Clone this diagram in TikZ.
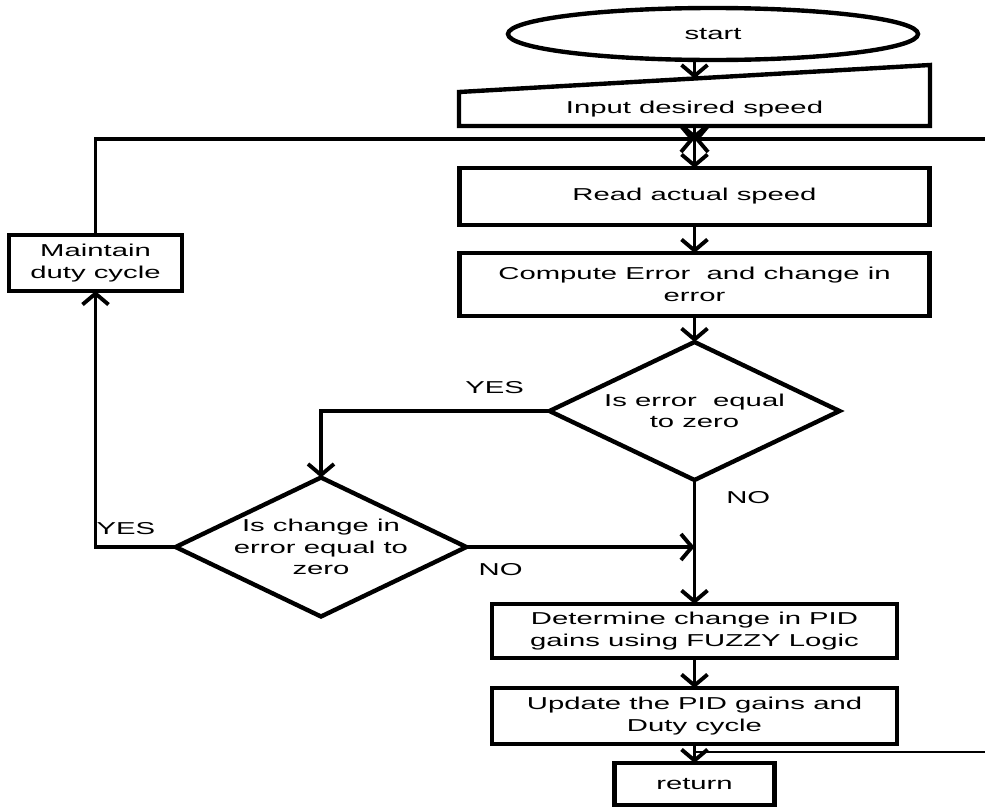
\documentclass[tikz,border=0pt]{standalone}
\usepackage{fontspec}
\newfontfamily\flowfont[FakeStretch=1.7]{Liberation Sans}
\usetikzlibrary{
  shapes.geometric,
  positioning,
  arrows.meta,
  calc
}
\tikzset{
  >={Straight Barb[length=0.22cm,width=0.52cm]},
  every node/.style={font=\flowfont\fontsize{9.8}{12.2}\selectfont, align=center},
  process/.style={draw, line width=2.5pt, inner sep=0pt, outer sep=0pt,
    minimum width=9.4cm, minimum height=1.14cm},
  decision/.style={diamond, draw, line width=2.5pt, inner sep=0pt, outer sep=0pt, aspect=2.1},
  flow/.style={line width=2.2pt},
  answer/.style={inner sep=1pt}
}

\begin{document}
\begin{tikzpicture}
    \useasboundingbox (0,0) rectangle (19.7,-16.16);
    \node[ellipse, draw, line width=2.5pt, inner sep=0pt, minimum width=8.2cm, minimum height=1.04cm] (start) at (14.26,-0.68) {start};
    \node[inner sep=0pt, outer sep=0pt, minimum width=9.42cm, minimum height=0.68cm] (input) at (13.89,-2.18) {Input desired speed};
    \coordinate (inTL) at (input.north west);
    \coordinate (inTR) at ($(input.north east)+(0,0.54)$);
    \coordinate (intop) at ($(inTL)!0.5!(inTR)$);
    \draw[line width=2.5pt] (input.south west) -- (input.south east) -- (inTR) -- (inTL) -- cycle;
    \coordinate[below=0.26cm of input] (jn);
    \node[process, below=0.84cm of input] (read) {Read actual speed};
    \node[process, minimum height=1.26cm, below=0.56cm of read] (comp) {Compute Error\ \ and change in\\error};
    \node[decision, minimum width=5.8cm, minimum height=2.76cm, below=0.52cm of comp] (iserr) {Is error\ \ equal\\to zero};
    \node[process, minimum width=8.1cm, minimum height=1.08cm, below=2.48cm of iserr] (fuzzy) {Determine change in PID\\gains using FUZZY Logic};
    \node[process, minimum width=8.1cm, minimum height=1.12cm, below=0.6cm of fuzzy] (update) {Update the PID gains and\\Duty cycle};
    \coordinate[below=0.16cm of update] (jn2);
    \node[process, minimum width=3.2cm, minimum height=0.84cm, below=0.38cm of update] (ret) {return};
    \node[decision, minimum width=5.6cm, minimum height=2.78cm] (isdelta) at (6.42,-10.94) {Is change in\\error equal to\\zero};
    \node[process, minimum width=3.46cm, minimum height=1.12cm] (maint) at (1.91,-5.26) {Maintain\\duty cycle};
    \coordinate[right=5.81cm of jn] (rin);
    \coordinate[right=5.81cm of jn2] (rout);
    % main column
    \draw[flow, ->] (start.south -| intop) -- (intop);
    \draw[flow, ->] (input.south) -- (jn);
    \draw[flow, ->] (jn) -- (read);
    \draw[flow, ->] (read) -- (comp);
    \draw[flow, ->] (comp) -- (iserr);
    \draw[flow, ->] (iserr) -- node[answer, right=16pt, pos=0.14] (no1) {NO} (fuzzy);
    \draw[flow, ->] (fuzzy) -- (update);
    \draw[flow, ->] (update) -- (ret);
    % branches
    \draw[flow, ->] (iserr.west) -| node[answer, above=8pt, pos=0.12] (yes1) {YES} (isdelta.north);
    \draw[flow, ->] (isdelta.west) -| node[answer, above=4.7pt, pos=0.31] (yes2) {YES} (maint.south);
    \draw[flow, ->] (isdelta.east) -- node[answer, below=7pt, pos=0.15] (no2) {NO} (isdelta.east -| iserr.south);
    % loops back
    \draw[flow, ->] (maint.north) |- (jn);
    \draw[flow, ->] (rin) -- (jn);
    \draw[line width=1.3pt] (jn2) -- (rout);
\end{tikzpicture}
\end{document}
